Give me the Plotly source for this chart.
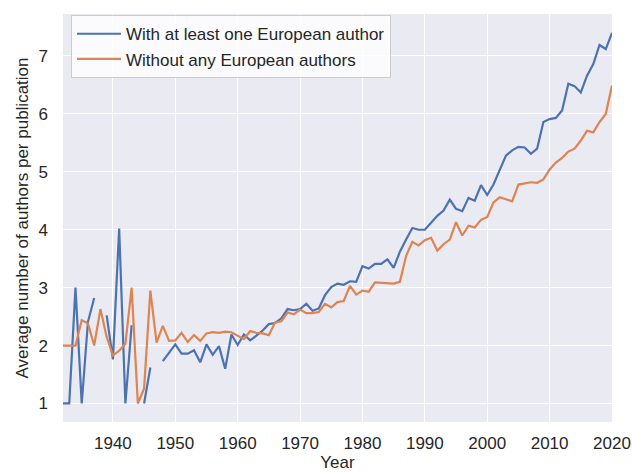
import plotly.graph_objects as go

years = list(range(1932, 2021))

with_european = [
    1.0, 1.0, 3.0, 1.0, 2.41, 2.82, None, 2.52, 1.76, 4.02,   # 1932-1941
    1.0, 2.35, None, 1.0, 1.62, None, 1.73, 1.87, 2.02, 1.86,  # 1942-1951
    1.86, 1.92, 1.71, 2.02, 1.84, 1.99, 1.60, 2.19, 2.01, 2.19,  # 1952-1961
    2.09, 2.17, 2.26, 2.37, 2.39, 2.47, 2.63, 2.61, 2.63, 2.72,  # 1962-1971
    2.60, 2.64, 2.87, 3.01, 3.07, 3.05, 3.11, 3.10, 3.37, 3.33,  # 1972-1981
    3.41, 3.41, 3.49, 3.34, 3.62, 3.83, 4.03, 4.00, 4.00, 4.12,  # 1982-1991
    4.24, 4.33, 4.52, 4.36, 4.32, 4.55, 4.50, 4.77, 4.60, 4.78,  # 1992-2001
    5.02, 5.28, 5.37, 5.43, 5.42, 5.31, 5.40, 5.86, 5.91, 5.93,  # 2002-2011
    6.06, 6.52, 6.48, 6.37, 6.66, 6.86, 7.19, 7.12, 7.40,        # 2012-2020
]

without_european = [
    2.0, 2.0, 2.0, 2.44, 2.38, 2.0, 2.63, 2.15, 1.83, 1.91,     # 1932-1941
    2.03, 3.0, 1.0, 1.26, 2.95, 2.05, 2.34, 2.08, 2.09, 2.22,   # 1942-1951
    2.06, 2.18, 2.08, 2.21, 2.23, 2.22, 2.24, 2.23, 2.17, 2.11,  # 1952-1961
    2.25, 2.22, 2.21, 2.18, 2.40, 2.42, 2.57, 2.54, 2.62, 2.56,  # 1962-1971
    2.56, 2.58, 2.72, 2.66, 2.75, 2.77, 3.03, 2.88, 2.95, 2.93,  # 1972-1981
    3.09, 3.08, 3.07, 3.07, 3.10, 3.55, 3.79, 3.73, 3.82, 3.86,  # 1982-1991
    3.64, 3.75, 3.83, 4.13, 3.90, 4.07, 4.04, 4.17, 4.22, 4.47,  # 1992-2001
    4.56, 4.52, 4.49, 4.78, 4.80, 4.82, 4.81, 4.87, 5.04, 5.16,  # 2002-2011
    5.24, 5.35, 5.40, 5.54, 5.71, 5.68, 5.86, 6.00, 6.49,        # 2012-2020
]

series_names = ["With at least one European author", "Without any European authors"]
x_ticks = [1940, 1950, 1960, 1970, 1980, 1990, 2000, 2010, 2020]
y_ticks = [1, 2, 3, 4, 5, 6, 7]

FONT = "Liberation Sans, Arial, sans-serif"
TXT = "#262626"

fig = go.Figure()
fig.add_trace(go.Scatter(x=years, y=with_european, mode="lines", name=series_names[0],
                         line=dict(color="#4C72B0", width=2.2), connectgaps=False))
fig.add_trace(go.Scatter(x=years, y=without_european, mode="lines", name=series_names[1],
                         line=dict(color="#DD8452", width=2.2), connectgaps=False))

fig.update_layout(
    width=632, height=472,
    margin=dict(l=63, r=20, t=14, b=50),
    paper_bgcolor="white",
    plot_bgcolor="#EAEAF2",
    font=dict(family=FONT, size=17, color=TXT),
    showlegend=True,
    legend=dict(
        x=0.0146, y=0.997, xanchor="left", yanchor="top",
        bgcolor="rgba(255,255,255,0.8)", bordercolor="#CCCCCC", borderwidth=1,
        font=dict(family=FONT, size=17, color=TXT),
        tracegroupgap=0, itemwidth=44,
    ),
    xaxis=dict(
        range=[1932, 2020], tickvals=x_ticks, showgrid=True, gridcolor="white", gridwidth=1.3,
        zeroline=False, showline=False, ticks="", ticklabelstandoff=9, automargin=False,
        tickfont=dict(size=17, color=TXT),
        title=dict(text="Year", font=dict(size=17, color=TXT), standoff=15),
    ),
    yaxis=dict(
        range=[0.68, 7.725], tickvals=y_ticks, showgrid=True, gridcolor="white", gridwidth=1.3,
        zeroline=False, showline=False, ticks="", ticklabelstandoff=14, automargin=False,
        tickfont=dict(size=17, color=TXT),
        title=dict(text="Average number of authors per publication", font=dict(size=17, color=TXT), standoff=5),
    ),
)

fig.write_html("out.html", config={"displayModeBar": False},
               post_script="document.body.style.margin='0px';")
